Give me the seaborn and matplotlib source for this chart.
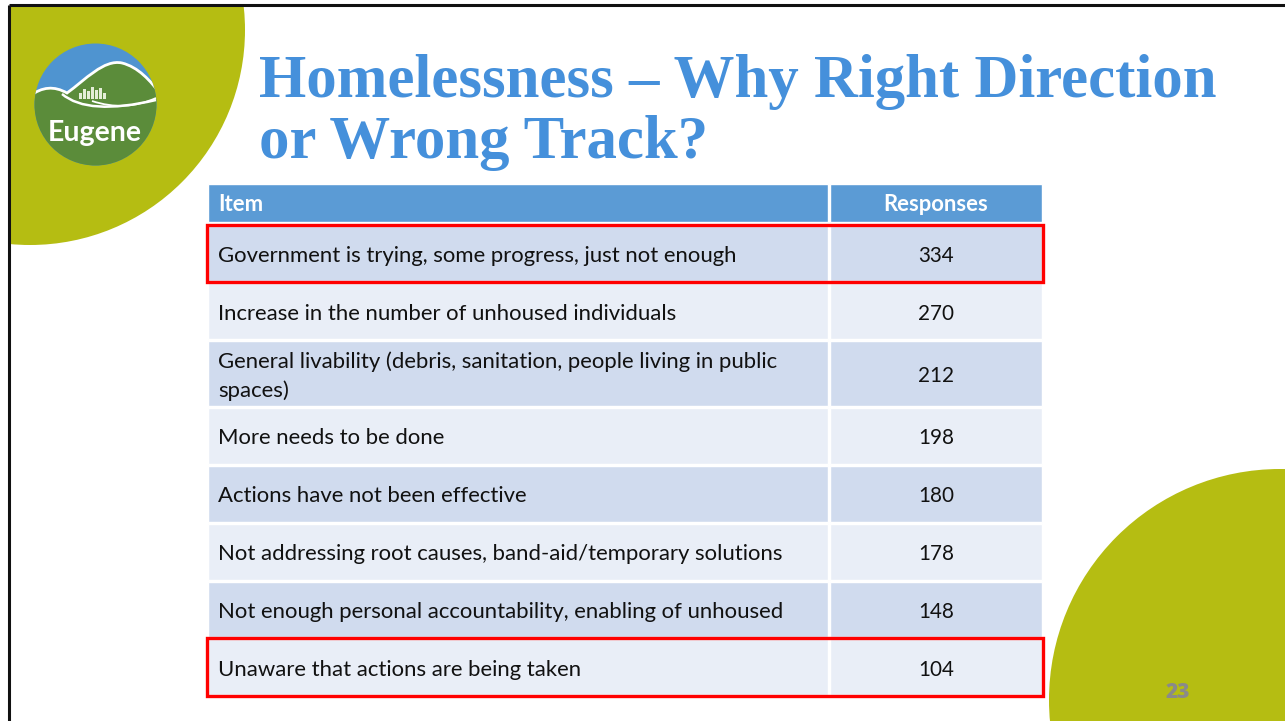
import textwrap
import numpy as np
import matplotlib
matplotlib.use("Agg")
import matplotlib.pyplot as plt
from matplotlib.patches import Circle, Rectangle, PathPatch
from matplotlib.path import Path
import seaborn as sns

# ---------------- data ----------------
title_lines = ["Homelessness \u2013 Why Right Direction", "or Wrong Track?"]
header = ["Item", "Responses"]
items = [
    "Government is trying, some progress, just not enough",
    "Increase in the number of unhoused individuals",
    "General livability (debris, sanitation, people living in public spaces)",
    "More needs to be done",
    "Actions have not been effective",
    "Not addressing root causes, band-aid/temporary solutions",
    "Not enough personal accountability, enabling of unhoused",
    "Unaware that actions are being taken",
]
responses = [334, 270, 212, 198, 180, 178, 148, 104]
highlighted = ["Government is trying, some progress, just not enough",
               "Unaware that actions are being taken"]
page_number = "23"
logo_text = "Eugene"

# ---------------- style ----------------
sns.set_theme(style="white")
plt.rcParams["font.family"] = ["Lato", "DejaVu Sans"]

W, H = 1285, 721
fig = plt.figure(figsize=(W / 100, H / 100), dpi=100)
ax = fig.add_axes([0, 0, 1, 1])
ax.set_xlim(0, W)
ax.set_ylim(H, 0)
ax.axis("off")
renderer = fig.canvas.get_renderer()


def fit_width(txt, target_px):
    """Scale a text's font size so its rendered width matches target_px."""
    for _ in range(3):
        w = txt.get_window_extent(renderer).width
        txt.set_fontsize(txt.get_fontsize() * target_px / w)


GREEN = "#b5bd12"
TITLE_BLUE = "#4590db"
HEAD_BLUE = "#5b9bd5"
ROW_DARK = "#d0dbee"
ROW_LIGHT = "#e9eef7"

# slide area clip
slide_clip = Rectangle((10, 6), W, H, transform=ax.transData, facecolor="none", edgecolor="none")
ax.add_patch(slide_clip)

c1 = Circle((30, 30), 215, facecolor=GREEN, edgecolor="none", zorder=1)
ax.add_patch(c1)
c1.set_clip_path(slide_clip)
c2 = Circle((1280, 700), 231, facecolor=GREEN, edgecolor="none", zorder=1)
ax.add_patch(c2)
c2.set_clip_path(slide_clip)

# slide border (top and left)
ax.plot([9, W], [5, 5], color="#111111", lw=2.2, zorder=10, solid_capstyle="butt")
ax.plot([9, 9], [5, H], color="#111111", lw=2.2, zorder=10, solid_capstyle="butt")

# ---------------- logo ----------------
lc = (95.5, 104.5)
lr = 61
logo_circle = Circle(lc, lr, facecolor="#4f94d0", edgecolor="none", zorder=2)
ax.add_patch(logo_circle)
hill = Path([(30, 96), (48, 82), (67, 93),
             (85, 80), (104, 59), (122, 63),
             (138, 67), (150, 80), (162, 96),
             (162, 175), (30, 175), (30, 96)],
            [Path.MOVETO, Path.CURVE3, Path.CURVE3,
             Path.CURVE4, Path.CURVE4, Path.CURVE4,
             Path.CURVE4, Path.CURVE4, Path.CURVE4,
             Path.LINETO, Path.LINETO, Path.CLOSEPOLY])
hp = PathPatch(hill, facecolor="#5b8c3a", edgecolor="white", lw=2.0, zorder=3)
ax.add_patch(hp)
hp.set_clip_path(logo_circle)
leaf = Path([(62, 94), (88, 116), (156, 100)], [Path.MOVETO, Path.CURVE3, Path.CURVE3])
lp = PathPatch(leaf, facecolor="none", edgecolor="white", lw=1.8, zorder=4)
ax.add_patch(lp)
lp.set_clip_path(logo_circle)
leaf2 = Path([(92, 101), (125, 112), (156, 98)], [Path.MOVETO, Path.CURVE3, Path.CURVE3])
lp2 = PathPatch(leaf2, facecolor="none", edgecolor="white", lw=1.3, zorder=4)
ax.add_patch(lp2)
lp2.set_clip_path(logo_circle)
for bx, bh in [(79, 6), (83, 10), (87, 8), (91, 12), (95, 9), (99, 11), (103, 6)]:
    ax.add_patch(Rectangle((bx, 99 - bh), 3.2, bh, facecolor="#e4eed8", edgecolor="none", zorder=4))
logo_t = ax.text(48, 141, logo_text, color="white", fontsize=22, fontweight="bold",
                 ha="left", va="baseline", zorder=5)
fit_width(logo_t, 94)

# ---------------- title ----------------
tfam = ["Liberation Serif", "DejaVu Serif"]
t1 = ax.text(259, 97, title_lines[0], color=TITLE_BLUE, fontsize=43, fontweight="bold",
             family=tfam, ha="left", va="baseline", zorder=5)
fit_width(t1, 956)
t2 = ax.text(259, 158, title_lines[1], color=TITLE_BLUE, fontsize=t1.get_fontsize(),
             fontweight="bold", family=tfam, ha="left", va="baseline", zorder=5)

# ---------------- table ----------------
x0, xsplit, x1 = 208, 829, 1042
gap = 2
head_top, head_bot = 184, 222
pitch = 57.8
tall_pitch = 67.0
wrapped = [textwrap.fill(s, 64) for s in items]
pitches = np.array([tall_pitch if "\n" in w else pitch for w in wrapped])
tops = 225.5 + np.concatenate([[0], np.cumsum(pitches)[:-1]])
heights = pitches - gap
centers = tops + heights / 2

# measure body font size from the first item (target width 523 px)
probe = ax.text(0, 0, items[0], fontsize=16)
fit_width(probe, 523)
body_fs = probe.get_fontsize()
probe.remove()

# header
ax.barh([(head_top + head_bot) / 2] * 2, [xsplit - x0 - 1, x1 - xsplit - 1],
        left=[x0, xsplit + 1], height=head_bot - head_top, color=HEAD_BLUE, zorder=2)
ax.text(218, (head_top + head_bot) / 2 + 1.5, header[0], color="white", fontsize=body_fs,
        fontweight="bold", ha="left", va="center", zorder=5)
hr = ax.text(936, (head_top + head_bot) / 2 + 1.5, header[1], color="white", fontsize=body_fs,
             fontweight="bold", ha="center", va="center", zorder=5)
fit_width(hr, 104)

row_colors = [ROW_DARK if i % 2 == 0 else ROW_LIGHT for i in range(len(items))]
ax.barh(centers, xsplit - x0 - 1, left=x0, height=heights, color=row_colors, zorder=2)
ax.barh(centers, x1 - xsplit - 1, left=xsplit + 1, height=heights, color=row_colors, zorder=2)

for i, (w, r) in enumerate(zip(wrapped, responses)):
    ax.text(218, centers[i] + 2.5, w, color="#111111", fontsize=body_fs, ha="left", va="center",
            linespacing=1.5, zorder=5)
    ax.text(936, centers[i] + 2.5, str(r), color="#111111", fontsize=body_fs * 0.93,
            ha="center", va="center", zorder=5)
    if items[i] in highlighted:
        ax.add_patch(Rectangle((x0 - 1, tops[i] - 1), x1 - x0 + 2, heights[i] + 2,
                               facecolor="none", edgecolor="#ff0000", lw=2.4, zorder=6))

# page number
ax.text(1178, 692, page_number, color="#8a8a8a", fontsize=15, fontweight="heavy",
        family=["Open Sans", "DejaVu Sans"], ha="center", va="center", zorder=5)

fig.savefig("out.png", dpi=100)
